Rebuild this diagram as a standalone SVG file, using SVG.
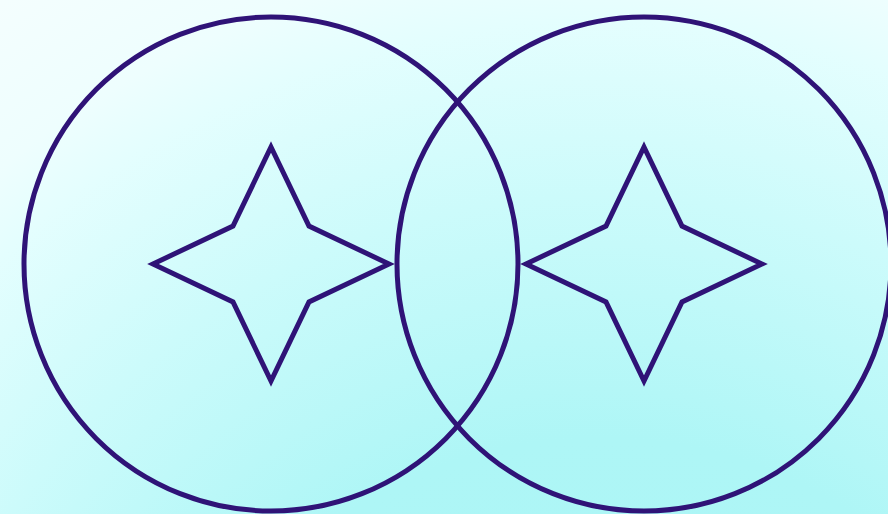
<svg xmlns="http://www.w3.org/2000/svg" width="888" height="514" viewBox="0 0 888 514">
  <defs>
    <radialGradient id="bg" gradientUnits="userSpaceOnUse" cx="600" cy="900" r="1100">
      <stop offset="0" stop-color="#a8f5f5"/>
      <stop offset="0.42" stop-color="#aef6f6"/>
      <stop offset="0.64" stop-color="#ccfbfb"/>
      <stop offset="0.8" stop-color="#e4fefe"/>
      <stop offset="0.86" stop-color="#eefefe"/>
      <stop offset="1" stop-color="#f5fefe"/>
    </radialGradient>
    <style>
      .ln { fill: none; stroke: #2f1377; stroke-width: 5; stroke-linejoin: miter; stroke-miterlimit: 10; }
    </style>
  </defs>
  <rect x="0" y="0" width="888" height="514" fill="url(#bg)"/>
  <g id="circle-left"><circle class="ln" cx="271" cy="264" r="247"/></g>
  <g id="circle-right"><circle class="ln" cx="644" cy="264" r="247"/></g>
  <g id="star-left"><polygon class="ln" points="271,147 309,226 389,264 309,302 271,381 233,302 153,264 233,226"/></g>
  <g id="star-right"><polygon class="ln" points="644,147 682,226 762,264 682,302 644,381 606,302 526,264 606,226"/></g>
</svg>
